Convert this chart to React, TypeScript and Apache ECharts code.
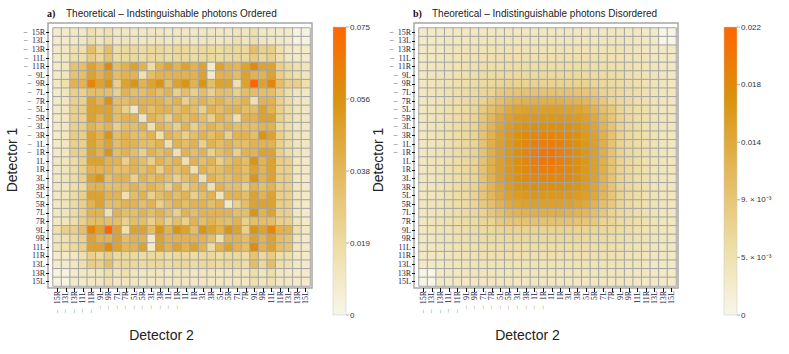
import React, { useEffect, useRef } from "react";
import * as echarts from "echarts";

const DETECTORS = [
  "−15R", "−13L", "−13R", "−11L", "−11R", "−9L", "−9R", "−7L", "−7R", "−5L",
  "−5R", "−3L", "−3R", "−1L", "−1R", "1L", "1R", "3L", "3R", "5L",
  "5R", "7L", "7R", "9L", "9R", "11L", "11R", "13L", "13R", "15L",
];

const TICKS_A = [0, 0.01875, 0.0375, 0.05625, 0.075];
const TICK_LABELS_A = ["0", "0.019", "0.038", "0.056", "0.075"];
const TICKS_B = [0, 0.0045, 0.009, 0.0135, 0.018, 0.0225];
const TICK_LABELS_B = ["0", "5. × 10⁻³", "9. × 10⁻³", "0.014", "0.018", "0.022"];

// Ordered: probabilities in units of 1e-3 (row = Detector 1 from top, col = Detector 2 from left)
const ORDERED_PERMILLE = [
  [8,8,10,10,16,12,16,10,11,11,10,11,11,10,11,11,10,11,11,10,11,12,11,16,11,10,9,9,2,2],
  [8,9,10,11,17,12,17,11,12,12,11,12,12,11,12,12,11,12,12,11,12,16,12,17,12,11,10,9,3,2],
  [9,10,16,16,34,21,34,17,20,21,19,21,21,19,21,21,19,21,20,19,21,21,20,34,25,26,16,11,8,8],
  [9,10,17,17,27,21,32,18,20,20,18,21,20,18,20,20,18,20,20,19,20,21,20,27,21,25,16,11,9,8],
  [9,11,32,34,48,40,60,34,40,48,40,18,40,48,40,48,40,48,8,48,40,38,48,60,48,48,25,20,16,12],
  [9,12,32,34,48,40,48,34,40,40,16,34,40,40,40,40,40,48,9,40,40,34,48,40,40,48,25,20,16,12],
  [10,16,40,40,62,48,55,25,48,55,40,48,55,34,48,55,40,55,34,48,48,16,48,75,48,62,34,25,25,16],
  [9,12,25,25,34,34,34,25,40,34,34,40,34,40,25,34,25,34,25,34,34,25,34,34,34,34,25,17,12,10],
  [9,11,25,25,48,40,55,34,34,40,40,40,40,34,40,25,34,40,34,40,34,34,40,16,40,40,25,18,12,10],
  [9,11,25,26,48,48,48,34,25,10,40,34,40,40,34,40,34,25,40,34,40,40,34,34,48,40,25,18,12,10],
  [9,11,25,25,48,40,48,34,40,40,12,40,34,25,40,34,40,34,25,40,34,16,40,40,48,48,25,18,12,10],
  [9,11,25,26,40,34,40,25,34,34,40,16,40,34,25,40,25,34,40,34,40,34,34,34,40,40,20,17,11,10],
  [9,11,26,26,48,40,55,34,40,34,34,40,16,40,34,25,34,40,34,40,25,40,40,34,55,48,25,18,12,10],
  [9,11,25,25,48,40,48,34,40,40,34,34,40,16,40,34,40,25,40,34,40,34,34,40,40,40,25,18,12,10],
  [9,11,25,26,48,40,55,34,40,34,25,40,34,40,16,40,34,40,25,34,40,25,40,40,48,48,25,18,12,10],
  [10,12,18,25,48,48,40,40,25,40,34,25,40,34,40,16,40,34,40,25,34,40,34,55,40,48,26,25,11,9],
  [10,12,18,25,40,40,40,34,34,40,34,40,25,40,34,40,16,40,34,34,40,40,34,48,40,48,25,25,11,9],
  [10,12,18,25,48,55,34,40,40,25,40,34,40,34,25,34,40,16,40,34,34,40,34,55,40,48,26,26,11,9],
  [10,11,17,20,40,40,34,34,34,40,34,40,34,25,40,25,34,40,16,40,34,34,25,40,34,40,26,25,11,9],
  [10,12,18,25,48,48,40,40,16,34,40,25,34,40,34,40,25,34,40,12,40,40,34,48,40,48,25,25,11,9],
  [10,12,18,25,40,48,34,34,40,40,34,40,25,34,40,34,40,40,34,40,10,25,34,48,48,48,26,25,11,9],
  [10,12,18,25,40,40,16,40,34,34,40,34,40,34,25,40,34,40,40,40,40,34,34,55,40,48,25,25,11,9],
  [10,12,17,25,34,34,34,34,25,34,34,25,34,25,34,25,40,34,40,34,34,40,25,34,34,34,25,25,12,9],
  [16,25,25,34,62,48,75,48,16,48,48,34,55,40,55,48,34,55,48,40,55,48,25,55,48,62,40,40,16,10],
  [12,16,20,25,48,40,40,48,34,40,40,9,48,40,40,40,40,40,34,16,40,40,34,48,40,48,34,32,12,9],
  [12,16,20,25,48,48,60,48,38,40,48,8,48,40,48,40,48,40,18,40,48,40,34,60,40,48,34,32,11,9],
  [8,9,11,16,25,21,27,20,21,20,19,20,20,18,20,20,18,20,21,18,20,20,18,32,21,27,17,17,10,9],
  [8,8,11,16,26,25,34,20,21,21,19,20,21,19,21,21,19,21,21,19,21,20,17,34,21,34,16,16,10,9],
  [2,3,9,10,11,12,17,12,16,12,11,12,12,11,12,12,11,12,12,11,12,12,11,17,12,17,11,10,9,8],
  [2,2,9,9,10,11,16,11,12,11,10,11,11,10,11,11,10,11,11,10,11,11,10,16,12,16,10,10,8,8],
];

// Disordered: probabilities in units of 1e-4
const DISORDERED_E4 = [
  [26,27,28,29,30,31,33,33,33,33,33,33,33,33,33,33,33,33,33,33,33,33,33,33,31,30,29,28,3,3],
  [27,29,30,32,33,35,36,37,37,37,37,37,37,37,37,37,37,37,37,37,37,37,37,36,35,33,32,30,3,3],
  [28,30,31,34,36,38,40,41,42,42,42,42,42,42,42,42,42,42,42,42,42,42,41,40,38,36,34,31,30,28],
  [29,32,34,36,38,41,43,45,46,47,47,47,47,47,47,47,47,47,47,47,47,46,45,43,41,38,36,34,32,29],
  [30,33,36,38,42,44,47,49,51,52,53,53,53,53,53,53,53,53,53,53,52,51,49,47,44,42,38,36,33,30],
  [31,35,38,41,44,48,51,54,56,58,59,60,60,60,60,60,60,60,60,59,58,56,54,51,48,44,41,38,35,31],
  [33,36,40,43,47,51,55,59,62,66,69,70,70,70,70,70,70,70,70,69,66,62,59,55,51,47,43,40,36,33],
  [33,37,41,45,49,54,59,65,70,84,90,93,95,95,95,95,95,95,93,90,84,70,65,59,54,49,45,41,37,33],
  [33,37,42,46,51,56,62,70,88,100,112,118,122,125,125,125,125,122,118,112,100,88,70,62,56,51,46,42,37,33],
  [33,37,42,47,52,58,66,84,100,120,135,142,146,148,148,148,148,146,142,135,120,100,84,66,58,52,47,42,37,33],
  [33,37,42,47,53,59,69,90,112,135,148,155,158,160,160,160,160,158,155,148,135,112,90,69,59,53,47,42,37,33],
  [33,37,42,47,53,60,70,93,118,142,155,163,168,171,172,172,171,168,163,155,142,118,93,70,60,53,47,42,37,33],
  [33,37,42,47,53,60,70,95,122,146,158,168,177,183,185,185,183,177,168,158,146,122,95,70,60,53,47,42,37,33],
  [33,37,42,47,53,60,70,95,125,148,160,171,183,191,196,196,191,183,171,160,148,125,95,70,60,53,47,42,37,33],
  [33,37,42,47,53,60,70,95,125,148,160,172,185,196,205,205,196,185,172,160,148,125,95,70,60,53,47,42,37,33],
  [33,37,42,47,53,60,70,95,125,148,160,172,185,196,205,205,196,185,172,160,148,125,95,70,60,53,47,42,37,33],
  [33,37,42,47,53,60,70,95,125,148,160,171,183,191,196,196,191,183,171,160,148,125,95,70,60,53,47,42,37,33],
  [33,37,42,47,53,60,70,95,122,146,158,168,177,183,185,185,183,177,168,158,146,122,95,70,60,53,47,42,37,33],
  [33,37,42,47,53,60,70,93,118,142,155,163,168,171,172,172,171,168,163,155,142,118,93,70,60,53,47,42,37,33],
  [33,37,42,47,53,59,69,90,112,135,148,155,158,160,160,160,160,158,155,148,135,112,90,69,59,53,47,42,37,33],
  [33,37,42,47,52,58,66,84,100,120,135,142,146,148,148,148,148,146,142,135,120,100,84,66,58,52,47,42,37,33],
  [33,37,42,46,51,56,62,70,88,100,112,118,122,125,125,125,125,122,118,112,100,88,70,62,56,51,46,42,37,33],
  [33,37,41,45,49,54,59,65,70,84,90,93,95,95,95,95,95,95,93,90,84,70,65,59,54,49,45,41,37,33],
  [33,36,40,43,47,51,55,59,62,66,69,70,70,70,70,70,70,70,70,69,66,62,59,55,51,47,43,40,36,33],
  [31,35,38,41,44,48,51,54,56,58,59,60,60,60,60,60,60,60,60,59,58,56,54,51,48,44,41,38,35,31],
  [30,33,36,38,42,44,47,49,51,52,53,53,53,53,53,53,53,53,53,53,52,51,49,47,44,42,38,36,33,30],
  [29,32,34,36,38,41,43,45,46,47,47,47,47,47,47,47,47,47,47,47,47,46,45,43,41,38,36,34,32,29],
  [28,30,31,34,36,38,40,41,42,42,42,42,42,42,42,42,42,42,42,42,42,42,41,40,38,36,34,31,30,28],
  [3,3,30,32,33,35,36,37,37,37,37,37,37,37,37,37,37,37,37,37,37,37,37,36,35,33,32,30,29,27],
  [3,3,28,29,30,31,33,33,33,33,33,33,33,33,33,33,33,33,33,33,33,33,33,33,31,30,29,28,27,26],
];

const RAMP = ["#f8f6ea", "#eddca2", "#e3b85a", "#d9930f", "#ff6600"];

type Panel = {
  letter: string;
  title: string;
  matrix: number[][];
  scale: number;
  max: number;
  ticks: number[];
  tickLabels: string[];
  gridLeft: number;
  barX: number;
  yNameX: number;
};

const PANELS: Panel[] = [
  {
    letter: "a)", title: "Theoretical – Indstinguishable photons Ordered",
    matrix: ORDERED_PERMILLE, scale: 1e-3, max: 0.075,
    ticks: TICKS_A, tickLabels: TICK_LABELS_A, gridLeft: 53, barX: 333, yNameX: 12,
  },
  {
    letter: "b)", title: "Theoretical – Indistinguishable photons Disordered",
    matrix: DISORDERED_E4, scale: 1e-4, max: 0.0225,
    ticks: TICKS_B, tickLabels: TICK_LABELS_B, gridLeft: 419, barX: 724, yNameX: 378,
  },
];

const GRID_TOP = 28;
const GRID_W = 257;
const GRID_H = 258;
const BAR_TOP = 27;
const BAR_H = 288;

export default function App() {
  const ref = useRef<HTMLDivElement>(null);
  useEffect(() => {
    if (!ref.current) return;
    const chart = echarts.init(ref.current, null, { renderer: "svg" });

    const grids: any[] = [];
    const xAxes: any[] = [];
    const yAxes: any[] = [];
    const series: any[] = [];
    const visualMaps: any[] = [];
    const graphics: any[] = [];

    PANELS.forEach((p, i) => {
      grids.push({ left: p.gridLeft, top: GRID_TOP, width: GRID_W, height: GRID_H });
      xAxes.push({
        type: "category", gridIndex: i, data: DETECTORS, position: "bottom", offset: 2,
        axisLine: { show: false },
        axisTick: { show: true, alignWithLabel: true, length: 4, lineStyle: { color: "#111", width: 1 } },
        splitLine: { show: false },
        axisLabel: {
          interval: 0, rotate: 90, margin: 3, fontSize: 8, fontFamily: "Liberation Serif", color: "#25254a",
          formatter: (v: string, idx: number) => {
            if (v.startsWith("−")) {
              return `{m${idx < 5 ? "b" : "o"}|−}{t|${v.slice(1)}}`;
            }
            return `{t|${v}}`;
          },
          rich: {
            t: { fontSize: 8, fontFamily: "Liberation Serif", color: "#25254a" },
            mb: { fontSize: 8, color: "#3f8fd8", padding: [0, 5, 0, 0] },
            mo: { fontSize: 8, color: "#e8892a", padding: [0, 5, 0, 0] },
          },
        },
      });
      yAxes.push({
        type: "category", gridIndex: i, data: DETECTORS, inverse: true, offset: 4,
        axisLine: { show: false },
        axisTick: { show: true, alignWithLabel: true, length: 3, lineStyle: { color: "#111", width: 1 } },
        splitLine: { show: false },
        axisLabel: {
          interval: 0, margin: 4, fontSize: 8, fontFamily: "Liberation Serif", color: "#25254a",
          formatter: (v: string) => (v.startsWith("−") ? `{m|−}{t|${v.slice(1)}}` : `{t|${v}}`),
          rich: {
            t: { fontSize: 8, fontFamily: "Liberation Serif", color: "#25254a" },
            m: { fontSize: 8, color: "#444", padding: [0, 4, 0, 0] },
          },
        },
      });
      const data: number[][] = [];
      p.matrix.forEach((row, r) => row.forEach((v, c) => data.push([c, r, v * p.scale])));
      series.push({
        type: "heatmap", xAxisIndex: i, yAxisIndex: i, data,
        itemStyle: { borderColor: "#a4a4a4", borderWidth: 1 },
        emphasis: { disabled: true },
      });
      visualMaps.push({
        type: "continuous", show: false, seriesIndex: i, min: 0, max: p.max,
        inRange: { color: RAMP },
      });

      graphics.push({
        type: "rect", silent: true,
        shape: { x: p.gridLeft - 5, y: GRID_TOP - 5, width: GRID_W + 7, height: GRID_H + 7 },
        style: { fill: "none", stroke: "#a6a6a6", lineWidth: 1.5 },
      });
      graphics.push({
        type: "text", x: p.gridLeft - 6, y: 13,
        style: { text: p.letter, font: "bold 10px 'Liberation Serif'", fill: "#111", verticalAlign: "middle" },
      });
      graphics.push({
        type: "text", x: p.gridLeft + 13, y: 13,
        style: { text: p.title, font: "10px 'Liberation Sans'", fill: "#222", verticalAlign: "middle" },
      });
      graphics.push({
        type: "text", x: p.gridLeft + GRID_W / 2 - 20, y: 335,
        style: { text: "Detector 2", font: "14px 'Liberation Sans'", fill: "#222", align: "center", verticalAlign: "middle" },
      });
      graphics.push({
        type: "text", x: p.yNameX, y: 160, rotation: Math.PI / 2,
        style: { text: "Detector 1", font: "14px 'Liberation Sans'", fill: "#222", align: "center", verticalAlign: "middle" },
      });
      graphics.push({
        type: "rect", silent: true,
        shape: { x: p.barX, y: BAR_TOP, width: 13, height: BAR_H },
        style: {
          fill: new echarts.graphic.LinearGradient(0, 1, 0, 0,
            RAMP.map((c, k) => ({ offset: k / (RAMP.length - 1), color: c }))),
          stroke: "#c8c8c8", lineWidth: 0.5,
        },
      });
      p.ticks.forEach((t, k) => {
        const y = BAR_TOP + BAR_H - (t / p.max) * BAR_H;
        graphics.push({
          type: "line", silent: true,
          shape: { x1: p.barX + 13, y1: y, x2: p.barX + 16, y2: y },
          style: { stroke: "#999", lineWidth: 0.8 },
        });
        graphics.push({
          type: "text", x: p.barX + 17, y,
          style: { text: p.tickLabels[k], font: "8px 'Liberation Sans'", fill: "#333", verticalAlign: "middle" },
        });
      });
    });

    chart.setOption({
      animation: false,
      backgroundColor: "#ffffff",
      grid: grids,
      xAxis: xAxes,
      yAxis: yAxes,
      visualMap: visualMaps,
      series,
      graphic: graphics,
    });
    return () => chart.dispose();
  }, []);

  return (
    <div
      ref={ref}
      style={{ position: "fixed", left: 0, top: 0, width: 789, height: 354, background: "#fff" }}
    />
  );
}
